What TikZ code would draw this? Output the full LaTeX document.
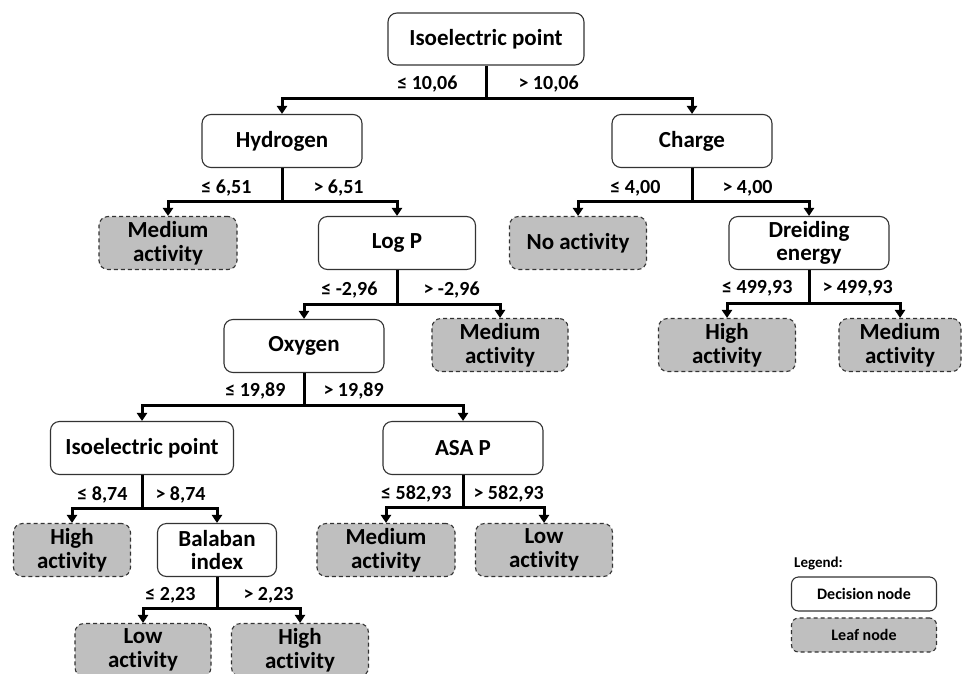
\documentclass[tikz,border=0pt]{standalone}
\usepackage{fontspec}
\setmainfont{Carlito}[Ligatures=NoCommon]
\usepackage{tikz}
\usetikzlibrary{positioning, arrows.meta}

\newcommand{\treefont}{\fontsize{23}{23.5}\selectfont\bfseries}
\newcommand{\condfont}{\fontsize{20}{22}\selectfont\bfseries}
\newcommand{\legfont}{\fontsize{16}{18}\selectfont\bfseries}

\tikzset{
	decision/.style = {draw=black!80, line width=1.1pt, rounded corners=9pt, fill=white,
		minimum width=160pt, minimum height=53pt, align=center, font=\treefont},
	leaf/.style = {decision, draw=black!80, dash pattern=on 4pt off 3pt, fill=gray!50,
		minimum width=137pt},
	edge/.style = {line width=3pt},
	arr/.style = {edge, -{Triangle[width=10pt, length=8pt]}},
	lbl/.style = {inner sep=0pt, font=\condfont}
}

\begin{document}
\begin{tikzpicture}[x=1pt, y=-1pt]
		\useasboundingbox (0,0) rectangle (962,673);
		
		% wezly decyzyjne i liscie
		\node[decision, minimum width=196pt, minimum height=52pt] (root) at (486,39) {Isoelectric point};
		\node[decision] (hyd) at (282,141) {Hydrogen};
		\node[decision] (chg) at (692,141) {Charge};
		\node[leaf, minimum width=138pt] (medA) at (168,243) {Medium\\activity};
		\node[decision, minimum width=157pt] (logp) at (397,243) {Log P};
		\node[leaf] (noact) at (578,243) {No activity};
		\node[decision] (drei) at (809,243) {Dreiding\\energy};
		\node[decision] (oxy) at (304,346) {Oxygen};
		\node[leaf, minimum width=136pt] (medB) at (500,345) {Medium\\activity};
		\node[leaf] (highA) at (727,345) {High\\activity};
		\node[leaf, minimum width=122pt] (medC) at (900,345) {Medium\\activity};
		\node[decision, minimum width=183pt] (iso) at (142,448) {Isoelectric point};
		\node[decision] (asap) at (463,448) {ASA P};
		\node[leaf, minimum width=117pt] (highB) at (72,550) {High\\activity};
		\node[decision, minimum width=119pt] (bal) at (217,550) {Balaban\\index};
		\node[leaf, minimum width=138pt] (medD) at (386,550) {Medium\\activity};
		\node[leaf] (lowA) at (544,550) {Low\\activity};
		\node[leaf, minimum width=136pt] (lowB) at (143,650) {Low\\activity};
		\node[leaf] (highC) at (300,650) {High\\activity};
		
		% legenda
		\node[anchor=west, inner sep=0pt, font=\fontsize{15}{17}\selectfont\bfseries] (legtitle) at (794,563) {Legend:};
		\node[decision, minimum width=145pt, minimum height=34pt, rounded corners=7pt, font=\legfont] (legdec) at (864,594) {Decision node};
		\node[leaf, minimum width=145pt, minimum height=34pt, rounded corners=7pt, font=\legfont] (legleaf) at (864,635) {Leaf node};
		
		% podzialy
		\draw[edge] (root.south) -- node[lbl, pos=0.56, left=27pt] {≤ 10,06} node[lbl, pos=0.56, right=31pt] {> 10,06} ++(0,33) coordinate (rootbus);
		\draw[arr] (rootbus) -| (hyd.north);
		\draw[arr] (rootbus) -| (chg.north);
		
		\draw[edge] (hyd.south) -- node[lbl, pos=0.6, left=29pt] {≤ 6,51} node[lbl, pos=0.6, right=30pt] {> 6,51} ++(0,33) coordinate (hydbus);
		\draw[arr] (hydbus) -| (medA.north);
		\draw[arr] (hydbus) -| (logp.north);
		
		\draw[edge] (chg.south) -- node[lbl, pos=0.6, left=30pt] {≤ 4,00} node[lbl, pos=0.6, right=29pt] {> 4,00} ++(0,33) coordinate (chgbus);
		\draw[arr] (chgbus) -| (noact.north);
		\draw[arr] (chgbus) -| (drei.north);
		
		\draw[edge] (logp.south) -- node[lbl, pos=0.6, left=18pt] {≤ -2,96} node[lbl, pos=0.6, right=25pt] {> -2,96} ++(0,34) coordinate (logpbus);
		\draw[arr] (logpbus) -| (oxy.north);
		\draw[arr] (logpbus) -| (medB.north);
		
		\draw[edge] (drei.south) -- node[lbl, pos=0.55, left=15pt] {≤ 499,93} node[lbl, pos=0.55, right=12pt] {> 499,93} ++(0,33) coordinate (dreibus);
		\draw[arr] (dreibus) -| (highA.north);
		\draw[arr] (dreibus) -| (medC.north);
		
		\draw[edge] (oxy.south) -- node[lbl, pos=0.55, left=17pt] {≤ 19,89} node[lbl, pos=0.55, right=18pt] {> 19,89} ++(0,32) coordinate (oxybus);
		\draw[arr] (oxybus) -| (iso.north);
		\draw[arr] (oxybus) -| (asap.north);
		
		\draw[edge] (iso.south) -- node[lbl, pos=0.6, left=13pt] {≤ 8,74} node[lbl, pos=0.6, right=12pt] {> 8,74} ++(0,33) coordinate (isobus);
		\draw[arr] (isobus) -| (highB.north);
		\draw[arr] (isobus) -| (bal.north);
		
		\draw[edge] (asap.south) -- node[lbl, pos=0.6, left=10pt] {≤ 582,93} node[lbl, pos=0.6, right=9pt] {> 582,93} ++(0,32) coordinate (asapbus);
		\draw[arr] (asapbus) -| (medD.north);
		\draw[arr] (asapbus) -| (lowA.north);
		
		\draw[edge] (bal.south) -- node[lbl, pos=0.6, left=20pt] {≤ 2,23} node[lbl, pos=0.6, right=25pt] {> 2,23} ++(0,31) coordinate (balbus);
		\draw[arr] (balbus) -| (lowB.north);
		\draw[arr] (balbus) -| (highC.north);
	\end{tikzpicture}
\end{document}
